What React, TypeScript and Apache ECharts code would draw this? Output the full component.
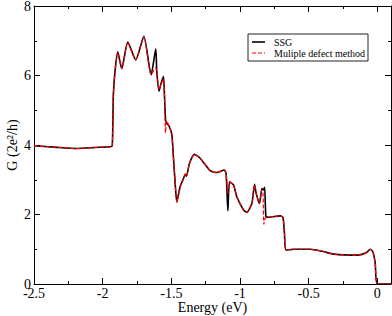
import React, { useEffect, useRef } from "react";
import * as echarts from "echarts";

const ssgX = [
  -2.5, -2.35, -2.19, -2.05, -1.946, -1.93, -1.922, -1.91, -1.89, -1.861, -1.817, -1.759, -1.70,
  -1.647, -1.613, -1.606, -1.589, -1.574, -1.557, -1.55, -1.54, -1.516, -1.496, -1.485, -1.472,
  -1.46, -1.436, -1.41, -1.399, -1.39, -1.368, -1.332, -1.29, -1.217, -1.168, -1.115, -1.101,
  -1.088, -1.076, -1.047, -1.023, -0.974, -0.95, -0.913, -0.894, -0.882, -0.858, -0.84, -0.828,
  -0.82, -0.811, -0.792, -0.707, -0.687, -0.676, -0.665, -0.6, -0.488, -0.4, -0.318, -0.148,
  -0.08, -0.051, -0.032, -0.015, 0, 0.1,
];
const ssgY = [
  3.98, 3.94, 3.9, 3.93, 3.95, 3.98, 5.45, 6.12, 6.68, 6.2, 6.96, 6.45, 7.13,
  6.02, 6.77, 6.12, 5.55, 5.78, 5.98, 5.45, 4.68, 4.54, 4.3, 3.66, 2.9,
  2.37, 2.8, 3.05, 3.16, 3.1, 3.47, 3.73, 3.62, 3.26, 3.21, 3.28, 3.18,
  2.11, 2.94, 2.85, 2.51, 2.13, 2.06, 2.32, 2.87, 2.61, 2.32, 2.75, 2.71,
  2.78, 1.94, 1.92, 1.96, 1.92, 1.46, 0.98, 1.0, 1.0, 0.94, 0.86, 0.83,
  0.9, 1.0, 0.93, 0.6, 0, 0,
];

const mdmX = [
  -2.5, -2.35, -2.19, -2.05, -1.946, -1.93, -1.922, -1.91, -1.89, -1.861, -1.817, -1.759, -1.70,
  -1.647, -1.613, -1.606, -1.589, -1.574, -1.557, -1.55, -1.542, -1.535, -1.516, -1.496, -1.485,
  -1.472, -1.46, -1.436, -1.41, -1.399, -1.39, -1.368, -1.332, -1.29, -1.217, -1.168, -1.115,
  -1.101, -1.088, -1.076, -1.047, -1.023, -0.974, -0.95, -0.913, -0.894, -0.882, -0.858, -0.84,
  -0.832, -0.826, -0.815, -0.792, -0.707, -0.687, -0.676, -0.665, -0.6, -0.488, -0.4, -0.318,
  -0.148, -0.08, -0.051, -0.032, -0.015, 0, 0.1,
];
const mdmY = [
  3.98, 3.94, 3.9, 3.93, 3.95, 3.98, 5.45, 6.12, 6.66, 6.2, 6.95, 6.45, 7.12,
  6.02, 6.22, 6.1, 5.6, 5.75, 5.9, 5.45, 4.35, 4.7, 4.54, 4.3, 3.66,
  2.9, 2.35, 2.8, 3.05, 3.16, 3.1, 3.47, 3.73, 3.62, 3.26, 3.21, 3.28,
  3.18, 2.6, 2.94, 2.85, 2.51, 2.13, 2.06, 2.32, 2.84, 2.61, 2.32, 2.72,
  2.6, 1.72, 1.9, 1.92, 1.96, 1.92, 1.46, 0.98, 1.0, 1.0, 0.94, 0.86,
  0.83, 0.9, 1.0, 0.93, 0.6, 0, 0,
];

const xTickLabels = ["-2.5", "-2", "-1.5", "-1", "-0.5", "0"];
const yTickLabels = ["0", "2", "4", "6", "8"];
const seriesNames = ["SSG", "Muliple defect method"];

const FONT = "'Liberation Serif', 'DejaVu Serif', serif";

export default function App() {
  const ref = useRef<HTMLDivElement>(null);
  useEffect(() => {
    if (!ref.current) return;
    const chart = echarts.init(ref.current, undefined, { renderer: "svg" });
    const fmtX = (v: number) => {
      const s = String(Math.round(v * 100) / 100);
      return xTickLabels.includes(s) ? s : "";
    };
    const fmtY = (v: number) => {
      const s = String(Math.round(v * 100) / 100);
      return yTickLabels.includes(s) ? s : "";
    };
    const tick = { show: true, inside: true, length: 6, lineStyle: { color: "#000", width: 1 } };
    const minor = { show: true, splitNumber: 2, length: 3, lineStyle: { color: "#000", width: 1 } };
    const axisLine = { show: true, onZero: false, lineStyle: { color: "#000", width: 1 } };
    chart.setOption({
      animation: false,
      backgroundColor: "#fff",
      grid: { left: 34, right: 1, top: 6, bottom: 32, containLabel: false, outerBoundsMode: "none" },
      xAxis: [
        {
          type: "value",
          min: -2.5,
          max: 0.1,
          interval: 0.5,
          axisLine,
          axisTick: tick,
          minorTick: minor,
          splitLine: { show: false },
          axisLabel: {
            formatter: fmtX,
            color: "#000",
            fontFamily: FONT,
            fontSize: 14,
            margin: 2,
            showMaxLabel: false,
            hideOverlap: false,
          },
          name: "Energy (eV)",
          nameLocation: "middle",
          nameGap: 16,
          nameMoveOverlap: false,
          nameTextStyle: { color: "#000", fontFamily: FONT, fontSize: 14 },
        },
        {
          type: "value",
          position: "top",
          min: -2.5,
          max: 0.1,
          interval: 0.5,
          axisLine,
          axisTick: tick,
          minorTick: minor,
          splitLine: { show: false },
          axisLabel: { show: false },
        },
      ],
      yAxis: [
        {
          type: "value",
          min: 0,
          max: 8,
          interval: 2,
          axisLine,
          axisTick: tick,
          minorTick: minor,
          splitLine: { show: false },
          axisLabel: { formatter: fmtY, color: "#000", fontFamily: FONT, fontSize: 14, margin: 3 },
          name: "G (2e²/h)",
          nameLocation: "middle",
          nameGap: 15,
          nameMoveOverlap: false,
          nameTextStyle: { color: "#000", fontFamily: FONT, fontSize: 14 },
        },
        {
          type: "value",
          position: "right",
          min: 0,
          max: 8,
          interval: 2,
          axisLine,
          axisTick: tick,
          minorTick: minor,
          splitLine: { show: false },
          axisLabel: { show: false },
        },
      ],
      series: [
        {
          name: seriesNames[0],
          type: "line",
          data: ssgX.map((x, i) => [x, ssgY[i]]),
          showSymbol: false,
          symbol: "none",
          smooth: 0.2,
          lineStyle: { color: "#000", width: 1.6 },
          z: 2,
        },
        {
          name: seriesNames[1],
          type: "line",
          data: mdmX.map((x, i) => [x, mdmY[i]]),
          showSymbol: false,
          symbol: "none",
          smooth: 0.2,
          lineStyle: { color: "#ff0000", width: 1.2, type: [4, 2] },
          z: 3,
        },
      ],
      graphic: [
        {
          type: "rect",
          shape: { x: 248, y: 34, width: 120, height: 27 },
          style: { fill: "#fff", stroke: "#222", lineWidth: 1 },
          z: 10,
        },
        {
          type: "line",
          shape: { x1: 252, y1: 42, x2: 265, y2: 42 },
          style: { stroke: "#000", lineWidth: 1.6 },
          z: 11,
        },
        {
          type: "text",
          x: 274,
          y: 42,
          style: { text: seriesNames[0], font: `10px ${FONT}`, fill: "#000", verticalAlign: "middle" },
          z: 11,
        },
        {
          type: "line",
          shape: { x1: 252, y1: 53, x2: 265, y2: 53 },
          style: { stroke: "#ff0000", lineWidth: 1.2, lineDash: [4, 2] },
          z: 11,
        },
        {
          type: "text",
          x: 274,
          y: 53,
          style: { text: seriesNames[1], font: `10px ${FONT}`, fill: "#000", verticalAlign: "middle" },
          z: 11,
        },
      ],
    });
    return () => chart.dispose();
  }, []);
  return <div ref={ref} style={{ width: 392, height: 316, position: "absolute", left: 0, top: 0 }} />;
}
